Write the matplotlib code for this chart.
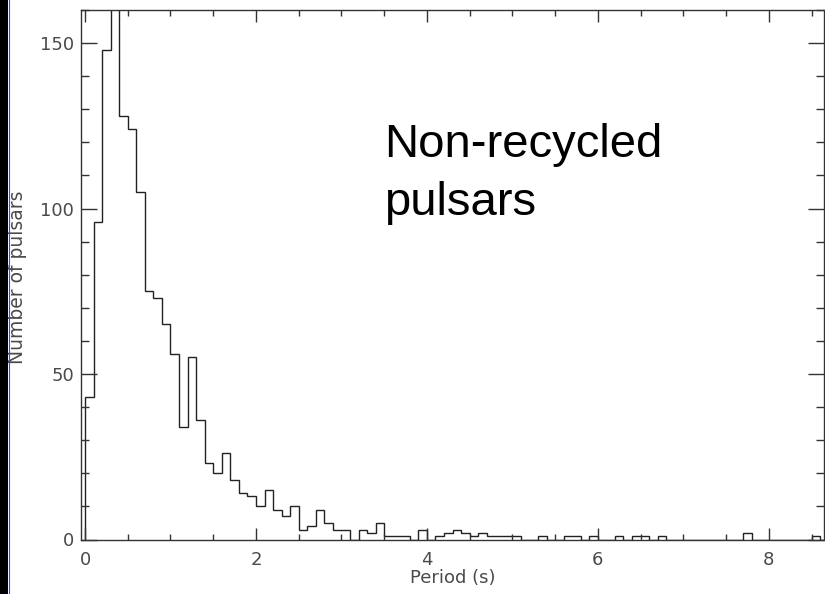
import numpy as np
import matplotlib
matplotlib.use("Agg")
import matplotlib.pyplot as plt
from matplotlib.patches import Rectangle
from matplotlib.lines import Line2D
from matplotlib.ticker import MultipleLocator

# Histogram of pulsar periods, 0.1 s bins starting at 0
bin_width = 0.1
counts = [43, 96, 148, 170, 128, 124, 105, 75, 73, 65,
          56, 34, 55, 36, 23, 20, 26, 18, 14, 13,
          10, 15, 9, 7, 10, 3, 4, 9, 5, 3,
          3, 0, 3, 2, 5, 1, 1, 1, 0, 3,
          0, 1, 2, 3, 2, 1, 2, 1, 1, 1,
          1, 0, 0, 1, 0, 0, 1, 1, 0, 1,
          0, 0, 1, 0, 1, 1, 0, 1, 0, 0,
          0, 0, 0, 0, 0, 0, 0, 2, 0, 0,
          0, 0, 0, 0, 0, 1, 0]
x_ticks = [0, 2, 4, 6, 8]
y_ticks = [0, 50, 100, 150]
x_label = "Period (s)"
y_label = "Number of pulsars"
annotation = "Non-recycled\npulsars"

W, H = 825, 594
fig = plt.figure(figsize=(W / 100, H / 100), dpi=100)

# axes placement in pixels
ax_l, ax_r, ax_t, ax_b = 81, 823.5, 10, 539.5
ax = fig.add_axes([ax_l / W, (H - ax_b) / H, (ax_r - ax_l) / W, (ax_b - ax_t) / H])

edges = np.arange(len(counts) + 1) * bin_width
ax.stairs(counts, edges, baseline=0, color="#222222", linewidth=1.0)

ax.set_xlim(-0.047, 8.64)
ax.set_ylim(0, 160)

ax.set_xticks(x_ticks)
ax.set_yticks(y_ticks)
ax.xaxis.set_minor_locator(MultipleLocator(0.5))
ax.yaxis.set_minor_locator(MultipleLocator(10))

spine_col = "#333333"
for s in ax.spines.values():
    s.set_color(spine_col)
    s.set_linewidth(1.0)

ax.tick_params(axis="both", which="both", direction="in", top=True, right=True,
               color=spine_col, width=1.0, labelcolor="#4a4a4a", labelsize=13)
ax.tick_params(axis="x", which="major", length=8.6, pad=8.5)
ax.tick_params(axis="x", which="minor", length=4.5)
ax.tick_params(axis="y", which="major", length=11.5, pad=5)
ax.tick_params(axis="y", which="minor", length=5.8)

ax.set_xlabel(x_label, fontsize=13, color="#4a4a4a")
ax.xaxis.set_label_coords(0.5, -0.056)

fig.text(18 / W, 1 - 277 / H, y_label, rotation=90, ha="center", va="center",
         fontsize=13.5, color="#4a4a4a")

ax.text(3.50, 126, annotation, family="Liberation Sans", fontsize=34,
        ha="left", va="top", color="black", linespacing=1.42)

# dark strip at the left edge
fig.patches.append(Rectangle((0, 0), 8 / W, 1, transform=fig.transFigure,
                             facecolor="black", edgecolor="none", zorder=10))
fig.lines.append(Line2D([8.5 / W, 8.5 / W], [0, 1], transform=fig.transFigure,
                        color="#3a5a9a", linewidth=0.8, zorder=11))

fig.savefig("out.png", dpi=100)
